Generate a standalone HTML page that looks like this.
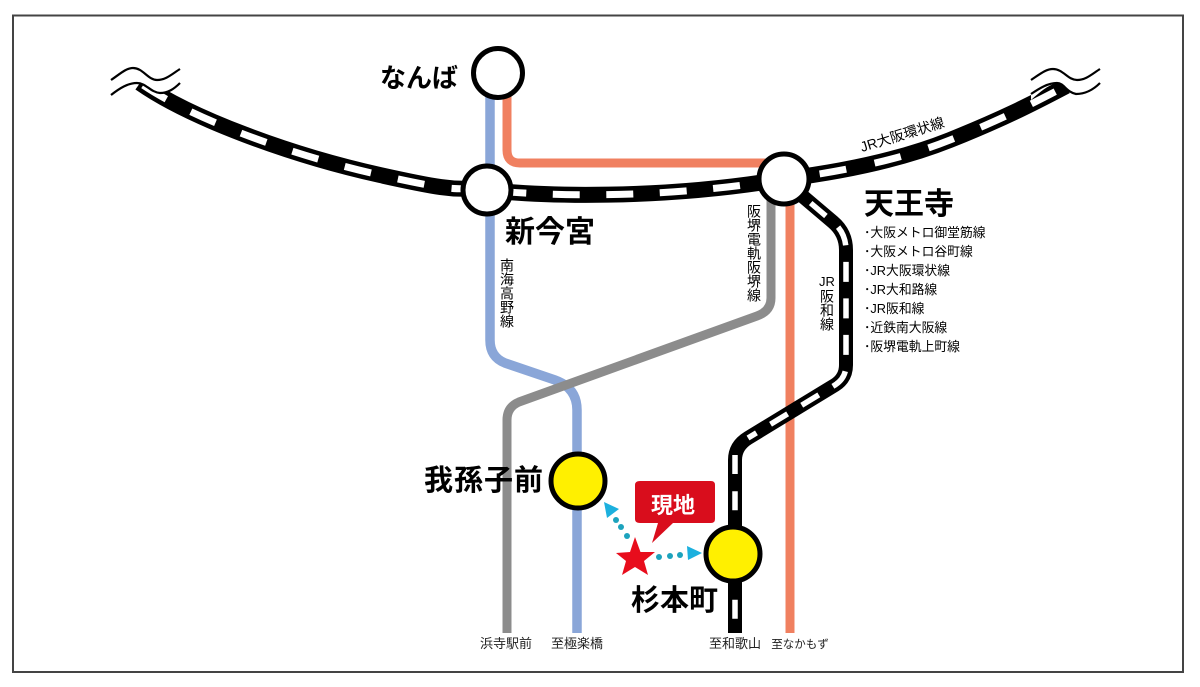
<!DOCTYPE html>
<html lang="ja"><head><meta charset="utf-8">
<style>
html,body{margin:0;padding:0;background:#fff;width:1200px;height:687px;overflow:hidden}
svg{display:block}
text{font-family:"Liberation Sans","Noto Sans CJK JP",sans-serif;fill:#000}
.b{font-weight:700}
.s{font-size:12.8px;fill:#000}
.v{font-size:14px;writing-mode:vertical-rl;fill:#000}
.t{font-size:13px;fill:#222;text-anchor:middle}
</style></head><body>
<svg width="1200" height="687" viewBox="0 0 1200 687" xmlns="http://www.w3.org/2000/svg">
<defs><filter id="soft" filterUnits="userSpaceOnUse" x="0" y="0" width="1200" height="687"><feGaussianBlur stdDeviation="0.3"/></filter></defs>
<rect x="13" y="15.500" width="1170" height="656.500" fill="#fff" stroke="#444" stroke-width="2"/>
<g filter="url(#soft)">
<!-- coloured lines -->
<path d="M490 90V340Q490 357 505 363L555 380Q577 388 577 410V633" fill="none" stroke="#8aa6d8" stroke-width="9.500"/>
<path d="M507 90V150Q507 163 520 163H780" fill="none" stroke="#f08060" stroke-width="9"/>
<path d="M790 190V633" fill="none" stroke="#f08060" stroke-width="9"/>
<path d="M771 200V298Q771 311 757 316L519 402Q507 407 507 420V633" fill="none" stroke="#8c8c8c" stroke-width="9"/>
<!-- ring line: left -->
<path d="M140 83C190 118 290 155 380 175S450 186 487 190" fill="none" stroke="#000" stroke-width="16"/>
<path d="M140 83C190 118 290 155 380 175S450 186 487 190" fill="none" stroke="#fff" stroke-width="7" stroke-dasharray="27 27.500" stroke-dashoffset="-4"/>
<!-- ring line: middle -->
<path d="M487 190C540 196 660 200 784 179" fill="none" stroke="#000" stroke-width="16"/>
<path d="M487 190C540 196 660 200 784 179" fill="none" stroke="#fff" stroke-width="7" stroke-dasharray="27 26.500" stroke-dashoffset="-12.500"/>
<!-- ring line: right -->
<path d="M784 179C840 172 900 160 950 140S1030 105 1066 86" fill="none" stroke="#000" stroke-width="16"/>
<path d="M784 179C840 172 900 160 950 140S1030 105 1066 86" fill="none" stroke="#fff" stroke-width="7" stroke-dasharray="27 29" stroke-dashoffset="-36"/>
<!-- JR Hanwa -->
<path d="M800 194L833 222Q846 233 846 250V365Q846 378 835 385L748 438Q735 446 735 460V633" fill="none" stroke="#000" stroke-width="14"/>
<path d="M800 194L833 222Q846 233 846 250V365Q846 378 835 385L748 438" fill="none" stroke="#fff" stroke-width="5.500" stroke-dasharray="20 16.500" stroke-dashoffset="-14"/>
<path d="M735 455V633" fill="none" stroke="#fff" stroke-width="5.500" stroke-dasharray="19 17.200"/>
<!-- masks above the lower wave -->
<path d="M111 95C120 88 128 83 137 83C146 83 150 92 160 93C168 93 174 89 180 83V60H111Z" fill="#fff"/>
<path d="M1031 100C1040 92 1048 85 1057 83C1064 83 1066 92 1076 94C1086 94 1094 89 1100 83V60H1031Z" fill="#fff"/>
<!-- wave marks -->
<path d="M111 80C120 74 126 68 133 68C143 68 148 80 157 80C166 80 172 74 180 69" fill="none" stroke="#000" stroke-width="2.200"/>
<path d="M111 95C120 88 128 83 137 83C146 83 150 92 160 93C168 93 174 89 180 83" fill="none" stroke="#000" stroke-width="2.200"/>
<path d="M1031 80C1040 74 1046 69 1053 69C1063 69 1068 80 1077 80C1086 80 1092 74 1100 69" fill="none" stroke="#000" stroke-width="2.200"/>
<path d="M1031 94C1040 88 1048 83 1057 83C1064 83 1066 92 1076 94C1086 94 1094 89 1100 83" fill="none" stroke="#000" stroke-width="2.200"/>
<!-- stations -->
<circle cx="498" cy="73" r="24.500" fill="#fff" stroke="#000" stroke-width="5"/>
<circle cx="487" cy="190" r="24" fill="#fff" stroke="#000" stroke-width="5"/>
<circle cx="784" cy="179" r="25" fill="#fff" stroke="#000" stroke-width="5"/>
<circle cx="578" cy="481" r="27" fill="#fff000" stroke="#000" stroke-width="5"/>
<circle cx="733" cy="554" r="27" fill="#fff000" stroke="#000" stroke-width="5"/>
<!-- callout -->
<path d="M640 481H711Q715 481 715 485V519Q715 523 711 523H673L652 543L658 523H640Q635 523 635 519V485Q635 481 640 481Z" fill="#d90f1f"/>
<!-- star -->
<polygon points="635,537 640.500,552 655,552 644,561 648,575 635,567 622,575 626,561 616,553 630,552" fill="#e8101f"/>
<!-- arrows -->
<polygon points="604,502 619,509 607,518" fill="#1cb0de"/>
<polygon points="702,553 687,546 688,560" fill="#1cb0de"/>
<g fill="#1fa3bd"><circle cx="616" cy="520" r="3"/><circle cx="621" cy="527" r="3"/><circle cx="627" cy="536" r="3"/><circle cx="659" cy="557" r="3"/><circle cx="670" cy="556" r="3"/><circle cx="680" cy="555" r="3"/></g>
</g>
<!-- labels -->
<text x="651" y="513" class="b" font-size="22" style="fill:#fff">現地</text>
<text x="380" y="87" class="b" font-size="26">なんば</text>
<text x="505" y="242" class="b" font-size="30">新今宮</text>
<text x="864" y="214" class="b" font-size="30">天王寺</text>
<text x="424" y="490" class="b" font-size="29" style="letter-spacing:1px">我孫子前</text>
<text x="631" y="610" class="b" font-size="29">杉本町</text>
<text x="864" y="237" class="s">･大阪メトロ御堂筋線</text>
<text x="864" y="256" class="s">･大阪メトロ谷町線</text>
<text x="864" y="275" class="s">･JR大阪環状線</text>
<text x="864" y="294" class="s">･JR大和路線</text>
<text x="864" y="313" class="s">･JR阪和線</text>
<text x="864" y="332" class="s">･近鉄南大阪線</text>
<text x="864" y="351" class="s">･阪堺電軌上町線</text>
<text x="507" y="258" class="v">南海高野線</text>
<text x="754" y="204" class="v">阪堺電軌阪堺線</text>
<text x="827" y="286" font-size="13" text-anchor="middle">JR</text>
<text x="827" y="289" class="v">阪和線</text>
<text transform="translate(862,152) rotate(-17)" font-size="14">JR大阪環状線</text>
<text x="506" y="648" class="t">浜寺駅前</text>
<text x="577" y="648" class="t">至極楽橋</text>
<text x="735" y="648" class="t">至和歌山</text>
<text x="800" y="648" class="t" style="font-size:11.500px">至なかもず</text>
</svg>
</body></html>
